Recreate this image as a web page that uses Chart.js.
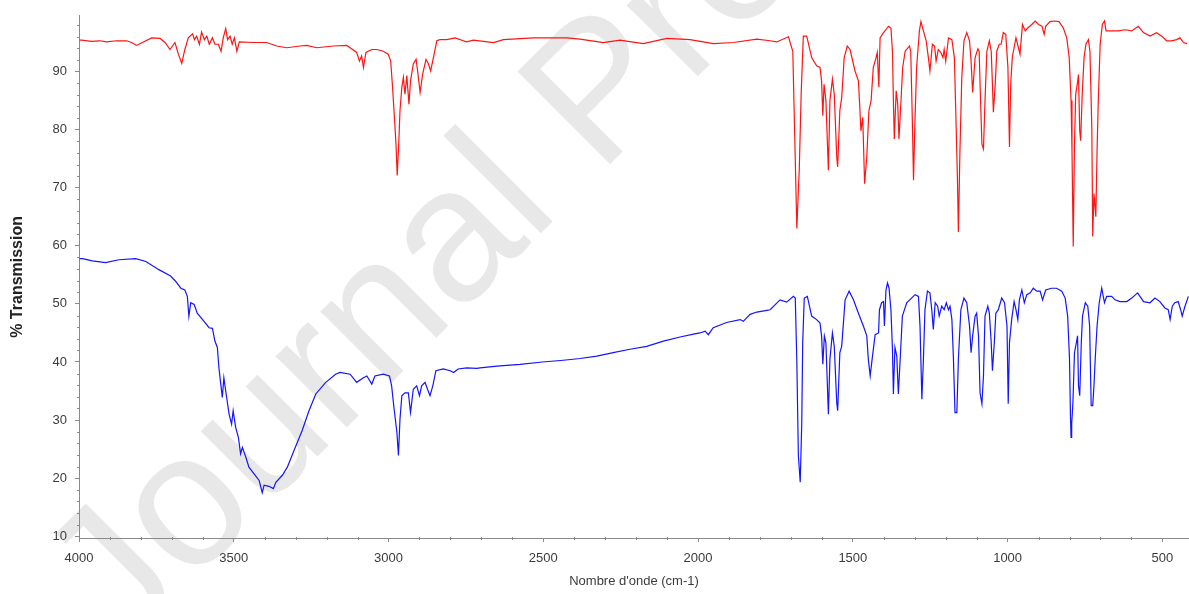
<!DOCTYPE html>
<html>
<head>
<meta charset="utf-8">
<script src="https://cdn.jsdelivr.net/npm/chart.js@4/dist/chart.umd.min.js"></script>
<style>
  html, body { margin: 0; padding: 0; background: #ffffff; }
  #wrap { width: 1189px; height: 594px; position: relative; }
</style>
</head>
<body>
<div id="wrap"><canvas id="ir"></canvas></div>
<script>
// Wavenumber axis ticks (cm-1) and transmission ticks (%)
const xTicks = [4000, 3500, 3000, 2500, 2000, 1500, 1000, 500];
const yTicks = [10, 20, 30, 40, 50, 60, 70, 80, 90];

// Upper spectrum (red)
const redWn = [3998,3991,3960,3932,3911,3878,3846,3830,3814,3792,3765,3738,3722,3706,3690,3679,3668,3658,3647,3633,3627,3620,3611,3604,3595,3587,3579,3569,3561,3550,3541,3534,3526,3520,3512,3505,3498,3490,3482,3437,3394,3361,3329,3286,3264,3232,3178,3135,3124,3103,3094,3087,3081,3073,3054,3038,3017,3001,2993,2987,2981,2976,2972,2967,2963,2957,2952,2947,2941,2934,2929,2920,2911,2906,2898,2890,2879,2871,2864,2855,2844,2834,2812,2785,2758,2747,2726,2661,2629,2532,2424,2381,2306,2252,2177,2101,2026,1951,1886,1810,1767,1746,1708,1694,1686,1681,1673,1667,1660,1649,1633,1617,1606,1601,1597,1593,1587,1579,1574,1566,1560,1552,1549,1542,1536,1528,1518,1509,1493,1482,1477,1474,1468,1462,1455,1448,1441,1434,1425,1421,1416,1412,1401,1393,1385,1377,1372,1369,1366,1360,1355,1351,1345,1339,1331,1317,1313,1308,1304,1299,1294,1285,1280,1272,1263,1256,1251,1243,1236,1231,1224,1216,1209,1205,1200,1191,1180,1172,1167,1162,1159,1154,1148,1141,1132,1123,1118,1113,1105,1096,1092,1089,1083,1078,1073,1067,1059,1053,1049,1046,1040,1035,1027,1021,1014,1006,999,994,990,985,978,973,965,960,952,943,935,922,911,900,889,882,877,863,847,834,820,809,801,795,792,788,784,780,775,771,767,764,759,753,747,739,734,728,725,721,715,711,707,701,694,687,682,674,658,642,620,599,578,561,540,519,502,486,470,454,443,432,420];
const redT = [95.4,95.4,95.2,95.3,95.1,95.3,95.3,95.0,94.5,95.1,95.8,95.7,95.0,93.8,95.0,93.0,91.4,93.8,95.8,96.5,95.5,96.1,94.7,96.8,95.5,96.1,94.7,95.8,94.7,94.7,93.5,95.8,97.4,95.5,96.1,94.7,95.8,93.5,95.1,95.0,95.0,94.4,94.1,94.4,94.5,94.1,94.4,94.5,94.1,93.3,91.8,92.7,90.7,93.3,93.8,93.8,93.5,93.0,91.8,87.3,82.1,77.6,72.1,77.6,83.3,87.3,89.0,86.1,89.3,84.4,88.4,91.3,92.1,90.1,86.4,89.5,92.1,91.3,90.1,92.4,95.3,95.5,95.5,95.8,95.3,95.1,95.4,95.0,95.5,95.8,95.8,95.6,95.0,95.4,94.8,95.7,95.5,94.8,95.0,95.6,95.3,95.1,96.0,93.5,74.8,63.0,73.3,86.1,96.1,96.1,92.4,91.0,90.7,88.4,82.4,87.8,85.0,73.0,85.0,88.7,86.1,75.3,73.6,83.3,85.5,92.4,94.4,93.8,90.1,88.4,83.3,79.8,82.1,70.7,75.3,83.3,85.0,90.7,92.4,93.3,87.3,95.8,96.7,97.2,97.8,97.5,93.5,85.0,78.4,86.7,84.4,78.4,84.4,90.7,93.5,94.4,93.5,82.1,71.3,82.1,90.7,97.0,98.6,97.0,95.3,92.4,90.1,94.7,94.4,91.8,93.8,93.3,92.4,93.8,91.8,95.8,95.5,92.4,82.1,71.3,62.4,76.4,89.0,95.3,96.7,95.3,91.8,86.4,92.4,93.9,93.5,87.8,77.5,76.7,85.0,93.5,95.3,93.5,87.8,83.0,87.8,93.5,94.7,94.7,96.7,96.4,90.7,77.0,87.8,92.4,94.4,95.8,94.1,93.0,98.1,97.0,97.5,98.1,98.7,98.1,97.8,96.4,97.8,98.6,98.7,98.6,97.5,95.8,92.4,85.0,76.4,59.9,77.5,86.1,87.8,89.5,79.8,78.1,86.1,92.4,94.7,95.5,93.5,80.4,61.6,69.0,65.0,76.4,85.0,94.7,98.1,98.7,97.0,97.0,97.0,97.0,97.2,97.0,97.8,96.7,96.1,96.7,96.1,95.3,95.3,95.5,95.8,95.0,94.8];

// Lower spectrum (blue)
const blueWn = [3998,3989,3957,3914,3871,3817,3784,3742,3704,3688,3671,3658,3650,3645,3639,3628,3618,3596,3580,3569,3561,3553,3548,3542,3537,3532,3526,3515,3507,3502,3494,3485,3478,3472,3461,3451,3435,3418,3408,3402,3386,3372,3364,3343,3327,3305,3279,3257,3235,3203,3171,3157,3124,3103,3081,3070,3054,3044,3017,2997,2990,2982,2973,2968,2963,2957,2947,2936,2929,2920,2909,2900,2893,2882,2874,2866,2857,2847,2823,2801,2790,2775,2747,2715,2704,2650,2575,2503,2435,2381,2327,2274,2220,2166,2112,2058,2015,1994,1977,1967,1951,1908,1864,1854,1832,1810,1778,1767,1741,1735,1714,1692,1686,1681,1676,1670,1665,1662,1657,1647,1633,1617,1606,1601,1597,1592,1587,1579,1574,1566,1560,1552,1549,1542,1536,1525,1512,1498,1482,1466,1455,1450,1444,1439,1428,1417,1414,1407,1401,1398,1393,1388,1383,1377,1372,1369,1364,1358,1353,1347,1340,1326,1299,1288,1283,1277,1272,1267,1259,1251,1245,1240,1234,1226,1221,1213,1205,1198,1191,1186,1180,1175,1170,1164,1159,1151,1141,1132,1123,1118,1113,1105,1100,1094,1089,1083,1078,1073,1064,1059,1053,1049,1043,1038,1030,1019,1010,1002,998,994,987,979,973,967,962,954,946,938,927,917,906,895,887,877,858,842,825,814,806,800,797,795,793,789,784,778,774,771,767,762,758,749,741,735,730,725,721,717,711,704,696,687,680,664,653,637,615,599,580,561,540,524,508,492,481,475,468,460,449,441,436,427,416];
const blueT = [57.8,57.8,57.4,57.1,57.6,57.8,57.3,55.9,54.8,53.9,52.7,52.4,51.3,47.9,50.2,49.9,48.4,47.0,45.9,45.8,43.6,42.5,39.0,36.2,33.9,37.3,35.0,31.0,29.3,31.6,28.8,27.0,24.2,25.3,23.6,21.9,20.8,19.6,17.5,18.8,18.6,18.2,19.3,20.5,21.9,24.8,28.2,31.6,34.5,36.5,37.9,38.2,37.9,36.5,37.3,37.6,36.2,37.6,37.9,37.6,35.9,31.9,27.9,23.9,30.2,34.2,34.7,34.7,31.3,35.3,35.9,34.2,35.9,36.5,35.3,34.2,35.9,38.5,38.8,38.5,38.2,38.8,39.0,38.9,39.0,39.3,39.6,40.0,40.3,40.6,41.0,41.6,42.2,42.7,43.6,44.3,44.8,45.0,45.3,44.7,45.9,46.8,47.3,47.0,48.2,48.6,48.9,49.0,50.4,50.7,50.3,51.3,51.0,40.2,23.9,19.3,29.6,43.3,51.0,51.3,47.9,47.3,46.7,44.5,39.6,44.5,43.3,31.0,40.5,45.0,42.7,33.0,31.6,41.6,42.7,50.7,52.2,50.7,48.4,46.2,44.5,40.5,37.6,39.9,44.7,45.0,49.0,50.2,50.4,46.2,52.4,53.6,52.7,49.0,42.2,34.5,42.5,41.0,34.5,40.5,47.9,50.2,51.6,51.3,46.2,33.6,40.5,49.0,52.2,51.9,49.0,45.6,50.2,49.6,47.9,49.6,49.0,50.2,49.0,49.6,47.3,40.5,31.3,31.3,40.5,49.0,51.0,50.2,46.2,41.6,44.5,47.9,48.4,44.5,34.7,32.8,37.6,47.9,49.6,48.4,43.3,38.5,43.3,48.4,49.0,51.0,50.2,46.2,32.8,43.3,47.3,50.4,49.0,47.3,50.7,52.4,50.2,51.6,51.9,52.7,52.2,52.2,50.7,52.4,52.7,52.7,52.2,51.0,47.9,40.5,30.8,27.0,29.3,33.0,41.6,43.3,44.5,35.9,34.2,43.3,47.9,50.2,49.6,46.2,32.5,32.5,35.9,40.5,46.2,50.2,52.7,50.2,51.3,51.3,50.7,50.4,50.4,51.0,51.9,50.4,50.2,51.0,50.4,49.3,49.0,47.3,49.6,50.2,50.4,49.0,47.9,49.6,51.3];

const toPoints = (wn, t) => wn.map((w, i) => ({ x: w, y: t[i] }));

const AXIS_GREY = '#8a8a8a';
const LABEL_GREY = '#3c3c3c';
const SANS = "'Liberation Sans', Arial, sans-serif";

// Diagonal light-grey stamp behind the traces
const stampPlugin = {
  id: 'stamp',
  beforeDraw(chart) {
    const ctx = chart.ctx;
    ctx.save();
    ctx.translate(121, 653);
    ctx.rotate(-Math.PI / 4);
    ctx.font = "190px " + SANS;
    ctx.fillStyle = '#e8e8e8';
    ctx.textBaseline = 'alphabetic';
    ctx.fillText('Journal Pre-proof', 0, 0);
    ctx.restore();
  }
};

// Minor tick marks: every 100 cm-1 on x, every 2 % on y
const minorTicksPlugin = {
  id: 'minorTicks',
  afterDraw(chart) {
    const ctx = chart.ctx;
    const xs = chart.scales.x, ys = chart.scales.y;
    const area = chart.chartArea;
    ctx.save();
    ctx.strokeStyle = AXIS_GREY;
    ctx.lineWidth = 1;
    ctx.beginPath();
    for (let w = 4000; w >= xs.min; w -= 100) {
      if (w % 500 === 0) continue;
      const px = Math.round(xs.getPixelForValue(w)) + 0.5;
      ctx.moveTo(px, area.bottom - 1);
      ctx.lineTo(px, area.bottom + 2);
    }
    for (let v = 10; v <= ys.max; v += 2) {
      if (v % 10 === 0) continue;
      const py = Math.round(ys.getPixelForValue(v)) + 0.5;
      ctx.moveTo(area.left - 2, py);
      ctx.lineTo(area.left + 1, py);
    }
    ctx.stroke();
    ctx.restore();
  }
};

new Chart(document.getElementById('ir'), {
  type: 'scatter',
  data: {
    datasets: [
      {
        data: toPoints(redWn, redT),
        showLine: true,
        borderColor: 'rgb(255, 20, 20)',
        borderWidth: 1.2,
        pointRadius: 0,
        tension: 0
      },
      {
        data: toPoints(blueWn, blueT),
        showLine: true,
        borderColor: 'rgb(20, 20, 255)',
        borderWidth: 1.2,
        pointRadius: 0,
        tension: 0
      }
    ]
  },
  options: {
    responsive: true,
    maintainAspectRatio: false,
    animation: false,
    events: [],
    layout: { padding: { top: 13, right: 0, left: 0, bottom: 0 } },
    plugins: {
      legend: { display: false },
      tooltip: { enabled: false }
    },
    scales: {
      x: {
        type: 'linear',
        reverse: true,
        min: 414,
        max: 4000,
        afterBuildTicks(scale) { scale.ticks = xTicks.map(v => ({ value: v })); },
        afterFit(scale) { scale.height = 56; },
        border: { display: true, color: AXIS_GREY, width: 1 },
        grid: { display: true, drawOnChartArea: false, drawTicks: true, tickLength: 4, color: AXIS_GREY },
        ticks: {
          autoSkip: false,
          maxRotation: 0,
          padding: 9,
          color: LABEL_GREY,
          font: { family: SANS, size: 13 },
          callback: v => String(v)
        },
        title: {
          display: true,
          text: "Nombre d'onde (cm-1)",
          color: LABEL_GREY,
          font: { family: SANS, size: 13 },
          padding: { top: 0, bottom: 5 }
        }
      },
      y: {
        type: 'linear',
        min: 9.7,
        max: 99.6,
        afterBuildTicks(scale) { scale.ticks = yTicks.map(v => ({ value: v })); },
        afterFit(scale) { scale.width = 79; },
        border: { display: true, color: AXIS_GREY, width: 1 },
        grid: { display: true, drawOnChartArea: false, drawTicks: true, tickLength: 4, color: AXIS_GREY },
        ticks: {
          autoSkip: false,
          padding: 8,
          color: LABEL_GREY,
          font: { family: SANS, size: 13 },
          callback: v => String(v)
        },
        title: {
          display: true,
          text: '% Transmission',
          color: '#222222',
          font: { family: SANS, size: 16, weight: 'bold' },
          padding: { top: 8, bottom: 0 }
        }
      }
    }
  },
  plugins: [stampPlugin, minorTicksPlugin]
});
</script>
</body>
</html>
